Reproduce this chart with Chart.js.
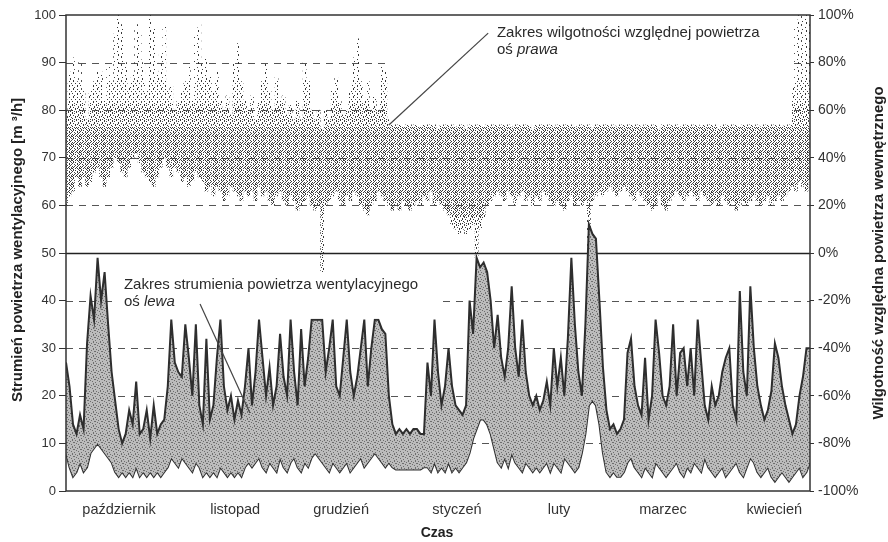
<!DOCTYPE html>
<html><head><meta charset="utf-8">
<script src="https://cdn.jsdelivr.net/npm/chart.js@4.4.1/dist/chart.umd.min.js"></script>
<style>html,body{margin:0;padding:0;background:#fff}#wrap{width:888px;height:542px}</style>
</head><body><div id="wrap"><canvas id="c" width="888" height="542"></canvas></div>
<script>
// ---- data (daily, 1 Oct .. 30 Apr) ----
const monthNames = ['październik','listopad','grudzień','styczeń','luty','marzec','kwiecień'];
const monthTickDays = [15.1, 48.2, 78.4, 111.4, 140.5, 170.1, 201.8];
const leftTicks = [0,10,20,30,40,50,60,70,80,90,100];
const rightTicks = [-100,-80,-60,-40,-20,0,20,40,60,80,100];

// ventilation air flow [m3/h] - daily max (left axis)
const ventMax = [27,22,14,12,16,13,31,41,36,49, 40,46,35,25,19,13,10,12,17,14,
 23,12,13,17,11,18,12,14,15,22, 36,27,25,24,35,28,20,35,18,14,
 32,15,18,28,36,22,17,20,15,19, 16,22,30,18,25,36,28,20,26,18,
 22,33,24,20,36,25,18,34,22,28, 36,36,36,36,25,30,36,22,20,28,
 36,25,20,24,30,36,22,30,36,36, 34,33,20,14,12,13,12,13,12,13,
 13,12,12,27,20,36,25,18,22,30, 22,18,17,16,18,40,33,49,47,48,
 46,40,30,37,28,24,30,43,30,24, 36,25,20,18,20,17,19,23,18,30,
 22,28,20,32,49,35,25,20,35,56, 54,53,40,26,17,13,14,12,13,15,
 29,32,22,18,16,28,15,20,36,29, 20,18,22,35,20,29,30,22,30,20,
 36,27,18,15,22,18,20,25,28,30, 18,15,42,25,20,43,30,22,18,15,
 17,21,31,28,22,18,15,12,14,20, 24,30,30];
// ventilation air flow - daily min (left axis)
const ventMin = [8,5,3,4,6,4, 5,8,9,10,9,8,7,6,
 4,3,4,3,4,3,5,3,4,3,4,3,4,3,4,5,
 7,6,5,7,6,5,4,6,5,3,4,
 3,4,3,5,4,3,4,3,4,3,5,6,
 5,6,7,5,4,6,5,4,7,5,4,6,7,5,4,6,5,7,8,7,6,5,4,6,5,4,5,6,4,5,6,7,5,6,7,8,7,6,5,
 6,5,4.5,4.5,4.5,4.5,4.5,4.5,4.5,4.5,5,
 5,4,6,4,5,4,6,4,5,4,5,6,
 8,11,13,15,15,14,12,9,
 6,5,7,5,8,6,5,4,6,5,4,5,4,5,6,4,6,5,4,7,6,5,4,5,8,
 12,18,19,18,14,8,
 4,3,4,3,3,4,6,7,5,4,3,5,4,3,6,5,4,3,4,5,6,4,3,5,4,6,5,4,7,5,
 4,3,4,5,3,4,5,6,4,3,5,7,6,4,3,4,5,3,2,3,4,3,2,3,4,5,3,4,6];
// indoor relative humidity [%] - daily max (right axis)
const humMax = [60,76,82,72,80,68,56,68,72,76, 76,64,80,72,92,100,96,80,70,76,
 96,92,80,68,100,94,76,84,96,68, 70,60,64,68,72,78,64,92,96,80,
 82,74,68,76,64,60,66,58,80,88, 72,64,60,66,56,64,72,80,68,60,
 74,64,66,58,62,56,64,56,80,72, 60,56,60,52,60,56,68,74,64,58,
 60,68,82,90,72,64,72,60,66,60, 78,76,56,
 54,55,54,53,54,55,54,54,53,54, 54,55,54,52,54,54,55,54,53,54,
 54,52,54,55,54,54,53,54,55,54, 54,54,55,54,53,54,54,55,54,54,
 52,54,54,55,54,54,53,54,54,55, 54,54,53,54,55,54,54,52,54,54,
 54,55,54,54,53,54,54,55,54,54, 54,53,54,55,54,54,52,54,54,55,
 54,54,53,54,55,54,54,54,53,54, 55,54,54,52,54,54,55,54,54,53,
 54,54,55,54,54,53,54,54,55,54, 54,53,54,54,70,96,100,100,100,96];
// indoor relative humidity [%] - daily min (right axis)
const humMin = [20,24,26,32,28,32,28,30,34,36, 32,28,32,36,40,38,34,32,36,40,
 42,38,34,32,30,28,32,36,40,36, 32,36,34,30,32,28,30,34,32,30,
 26,28,24,28,26,22,24,28,26,24, 22,26,24,26,22,28,24,26,22,20,
 24,26,22,20,24,22,18,20,22,24, 20,18,20,-8,20,22,24,26,22,20,
 24,22,26,24,20,18,16,20,22,26, 24,22,20,18,20,18,22,20,18,20,
 22,20,24,22,26,20,22,20,18,16, 12,10,8,10,8,10,12,-2,10,14,
 20,22,24,26,24,22,26,24,20,24, 26,22,24,20,24,22,26,24,22,20,
 22,20,18,22,24,20,22,20,22,0, 22,24,26,24,26,28,26,24,26,28,
 26,24,22,26,24,22,20,18,20,24, 20,18,22,24,26,24,22,24,26,24,
 22,26,24,22,20,22,20,24,22,20, 22,18,20,22,20,22,24,22,20,22,
 24,20,22,24,22,24,26,28,26,30, 28,26,30];

// ---- chart ----
const canvas = document.getElementById('c');
const ctx0 = canvas.getContext('2d');
const DOTS = {
  sparse: [[1,0,1,2],[5,3],[2,5],[6,6,1,2]],
  light:  [[1,0,1,2],[5,1],[3,3],[7,3],[0,5],[5,5,1,2],[2,7]],
  medium: [[0,0,1,2],[4,0],[2,1],[6,2,1,2],[1,3],[5,4],[3,4,1,2],[7,5],[0,6],[4,7],[2,7],[6,7]],
  dense:  [[0,0],[3,0],[5,0],[1,1,1,2],[6,1],[3,2],[7,2],[0,3],[5,3,1,2],[2,4],[7,4],
           [3,5],[6,5],[0,6],[2,6],[5,6],[1,7],[4,7],[7,7,1,2]]
};
// dotted texture whose density changes with height (dense core of the humidity band)
function humidityPattern(h){
  const c = document.createElement('canvas'); c.width = 8; c.height = h;
  const g = c.getContext('2d'); g.fillStyle = 'rgba(35,35,35,0.9)';
  for(let y0=0; y0<h; y0+=8){
    const set = y0 < 80 ? DOTS.sparse : y0 < 104 ? DOTS.light : y0 < 128 ? DOTS.medium : y0 < 212 ? DOTS.dense : DOTS.medium;
    set.forEach(([px,py,dw,dh])=>g.fillRect(px, y0+py, dw||1, dh||1));
  }
  return ctx0.createPattern(c,'repeat');
}
function ventPatternMake(){
  const c = document.createElement('canvas'); c.width = 7; c.height = 7;
  const g = c.getContext('2d'); g.fillStyle = '#bcbcbc'; g.fillRect(0,0,7,7);
  g.fillStyle = '#6e6e6e';
  [[0,0],[3,1,2,1],[6,2],[1,3],[4,4],[2,5,1,2],[5,6]].forEach(([px,py,dw,dh])=>g.fillRect(px,py,dw||1,dh||1));
  return ctx0.createPattern(c,'repeat');
}

const FONT = "'Liberation Sans', Arial, sans-serif";
const dayIdx = ventMax.map((_, i) => i);

// annotation text boxes (white, as in the original figure), in axis units (day, left-axis value)
const annotations = [
  {box:[92.3, 98.6, 206.9, 77.0],
   lines:[[{t:'Zakres wilgotności względnej powietrza'}],[{t:'oś '},{t:'prawa',i:true}]], day:122.8, val:96.2,
   leader:[[120.3,96.2],[92.0,76.9]]},
  {box:[14.0, 46.0, 106.5, 36.2],
   lines:[[{t:'Zakres strumienia powietrza wentylacyjnego'}],[{t:'oś '},{t:'lewa',i:true}]], day:16.5, val:43.3,
   leader:[[38.2,39.3],[52.4,16.4]]}
];

const decor = {
  id:'decor',
  beforeDatasetsDraw(chart){
    const {ctx, chartArea:a, scales:{x,y}} = chart;
    ctx.save();
    leftTicks.forEach(v=>{
      if(v===0||v===100) return;
      const py = Math.round(y.getPixelForValue(v))+0.5;
      ctx.beginPath();
      if(v===50){ ctx.setLineDash([]); ctx.lineWidth=1.5; ctx.strokeStyle='#222'; }
      else { ctx.setLineDash([7,6]); ctx.lineWidth=1; ctx.strokeStyle='#555'; }
      ctx.moveTo(a.left,py); ctx.lineTo(a.right,py); ctx.stroke();
    });
    ctx.restore();
  },
  afterDatasetsDraw(chart){
    const {ctx, chartArea:a, scales:{x,y}} = chart;
    ctx.save();
    annotations.forEach(an=>{
      const x0=x.getPixelForValue(an.box[0]), y0=y.getPixelForValue(an.box[1]);
      const x1=x.getPixelForValue(an.box[2]), y1=y.getPixelForValue(an.box[3]);
      ctx.fillStyle='#fff'; ctx.fillRect(x0,y0,x1-x0,y1-y0);
    });
    ctx.strokeStyle='#333'; ctx.lineWidth=1.5; ctx.setLineDash([]);
    ctx.strokeRect(a.left, a.top, a.right-a.left, a.bottom-a.top);
    ctx.fillStyle='#2a2a2a'; ctx.textBaseline='middle'; ctx.textAlign='left';
    annotations.forEach(an=>{
      let px = x.getPixelForValue(an.day), py = y.getPixelForValue(an.val);
      an.lines.forEach((ln,li)=>{
        let cx = px;
        ln.forEach(seg=>{
          ctx.font = (seg.i?'italic ':'')+'15px '+FONT;
          ctx.fillText(seg.t, cx, py+li*16.5);
          cx += ctx.measureText(seg.t).width;
        });
      });
      ctx.beginPath(); ctx.lineWidth=1.2; ctx.strokeStyle='#444';
      ctx.moveTo(x.getPixelForValue(an.leader[0][0]), y.getPixelForValue(an.leader[0][1]));
      ctx.lineTo(x.getPixelForValue(an.leader[1][0]), y.getPixelForValue(an.leader[1][1]));
      ctx.stroke();
    });
    ctx.restore();
  },
  afterDraw(chart){
    const {ctx} = chart;
    ctx.save();
    ctx.fillStyle='#222'; ctx.textAlign='center'; ctx.textBaseline='middle';
    ctx.font='bold 15px '+FONT;
    ctx.save(); ctx.translate(18, 250); ctx.rotate(-Math.PI/2);
    ctx.fillText('Strumień powietrza wentylacyjnego [m ³/h]',0,0); ctx.restore();
    ctx.save(); ctx.translate(879, 253); ctx.rotate(-Math.PI/2);
    ctx.fillText('Wilgotność względna powietrza wewnętrznego',0,0); ctx.restore();
    ctx.font='bold 14px '+FONT;
    ctx.fillText('Czas', 437, 533);
    ctx.restore();
  }
};

new Chart(canvas, {
  data:{
    datasets:[
      {type:'bar', label:'Wilgotność', yAxisID:'y2', xAxisID:'x',
       data: dayIdx.map(d=>({x:d, y:[humMin[d], humMax[d]]})),
       backgroundColor: humidityPattern(542), borderWidth:0, barThickness:3, grouped:false, order:3},
      {type:'line', label:'min', yAxisID:'y', data: dayIdx.map(d=>({x:d,y:ventMin[d]})),
       borderColor:'#2e2e2e', borderWidth:2, pointRadius:0, fill:false, tension:0, order:2},
      {type:'line', label:'max', yAxisID:'y', data: dayIdx.map(d=>({x:d,y:ventMax[d]})),
       borderColor:'#2e2e2e', borderWidth:2, pointRadius:0, fill:'-1', backgroundColor:ventPatternMake(), tension:0, order:1}
    ]
  },
  options:{
    responsive:false, animation:false, devicePixelRatio:1,
    layout:{padding:{top:15,left:0,right:0,bottom:0}},
    plugins:{legend:{display:false}, tooltip:{enabled:false}},
    scales:{
      x:{type:'linear', min:0, max:ventMax.length-1, position:'bottom', offset:false,
         afterBuildTicks(s){ s.ticks = monthTickDays.map(v=>({value:v})); },
         afterFit(s){ s.height = 51; },
         ticks:{autoSkip:false, maxRotation:0, padding:2, color:'#333', font:{family:FONT,size:14.5},
                callback:(v,i)=>monthNames[i]},
         grid:{display:false, offset:false}, border:{display:false}},
      y:{type:'linear', position:'left', min:0, max:100,
         afterBuildTicks(s){ s.ticks = leftTicks.map(v=>({value:v})); },
         afterFit(s){ s.width = 66; },
         ticks:{padding:3, color:'#333', font:{family:FONT,size:13}},
         grid:{drawOnChartArea:false, tickLength:7, color:'#333'}, border:{display:false}},
      y2:{type:'linear', position:'right', min:-100, max:100,
         afterBuildTicks(s){ s.ticks = rightTicks.map(v=>({value:v})); },
         afterFit(s){ s.width = 78; },
         ticks:{padding:4, color:'#333', font:{family:FONT,size:14}, callback:v=>v+'%'},
         grid:{drawOnChartArea:false, tickLength:4, color:'#333'}, border:{display:false}}
    }
  },
  plugins:[decor]
});
</script></body></html>
